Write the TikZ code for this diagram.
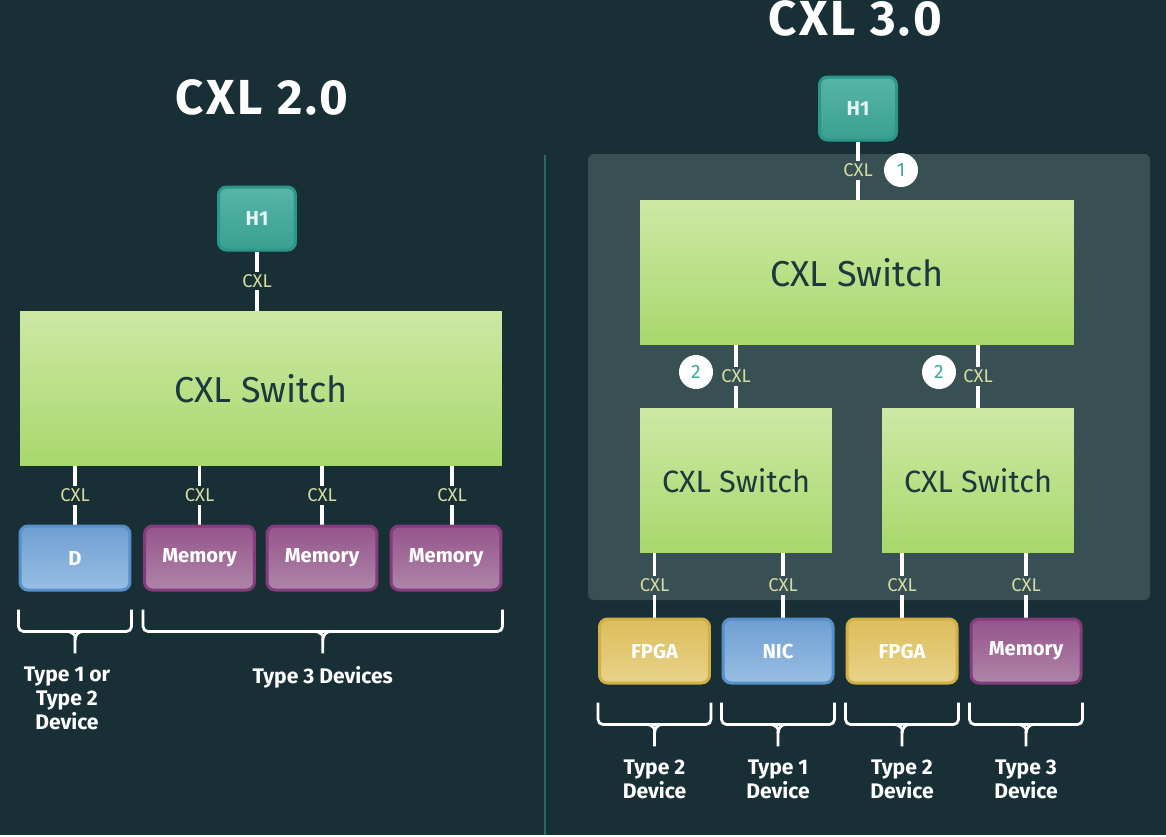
\documentclass[tikz,border=0pt]{standalone}
\usepackage{fontspec}
\setmainfont{Fira Sans}
\usepackage{tikz}
\usetikzlibrary{positioning}
\usetikzlibrary{calc}
\pgfdeclarelayer{backlayer}
\pgfdeclarelayer{edgelayer}
\pgfdeclarelayer{nodelayer}
\pgfsetlayers{backlayer,edgelayer,nodelayer,main}
\definecolor{bgdark}{HTML}{182F35}
\definecolor{panelgray}{HTML}{384F54}
\definecolor{divline}{HTML}{2B6663}
\definecolor{cxltext}{HTML}{D7DCA2}
\definecolor{switchtext}{HTML}{1C3A3D}
\definecolor{badgeteal}{HTML}{3AA89A}
\tikzset{
    title/.style = {text=white, font=\bfseries\fontsize{28}{30}\selectfont\addfontfeature{LetterSpace=6}},
    host/.style = {rounded corners=0.16cm, minimum width=1.54cm, minimum height=1.26cm,
        draw=HTML-hostedge, line width=0.06cm, top color=HTML-hosttop, bottom color=HTML-hostbot,
        text=HTML-hosttext, font=\bfseries\fontsize{11.5}{13}\selectfont},
    switch/.style = {top color=HTML-swtop, bottom color=HTML-swbot, text=switchtext,
        font=\fontsize{20.5}{22}\selectfont},
    smallswitch/.style = {switch, font=\fontsize{17.5}{19}\selectfont},
    device/.style = {rounded corners=0.16cm, minimum width=2.2cm, minimum height=1.28cm,
        line width=0.06cm, text=white, font=\bfseries\fontsize{11.5}{13}\selectfont},
    nicblue/.style = {draw=HTML-blueedge, top color=HTML-bluetop, bottom color=HTML-bluebot},
    mempurple/.style = {draw=HTML-purpedge, top color=HTML-purptop, bottom color=HTML-purpbot},
    fpgayellow/.style = {draw=HTML-yelledge, top color=HTML-yelltop, bottom color=HTML-yellbot},
    link/.style = {draw=white, line width=0.065cm},
    cxl/.style = {fill=bgdark, text=cxltext, inner sep=1.5pt, font=\fontsize{10.5}{12}\selectfont},
    cxlin/.style = {cxl, fill=panelgray},
    badge/.style = {circle, fill=white, minimum size=0.68cm, inner sep=0pt, text=badgeteal,
        font=\fontsize{11}{12}\selectfont},
    brace/.style = {draw=white, line width=0.055cm, rounded corners=0.1cm},
    devlabel/.style = {align=center, text=white, inner sep=0pt,
        font=\bfseries\fontsize{12}{13.6}\selectfont},
    divider/.style = {draw=divline, line width=0.04cm}
}
\definecolor{HTML-hostedge}{HTML}{2A978A}
\definecolor{HTML-hosttop}{HTML}{56B5A8}
\definecolor{HTML-hostbot}{HTML}{3A9F92}
\definecolor{HTML-hosttext}{HTML}{E4F6F2}
\definecolor{HTML-swtop}{HTML}{CDE8A4}
\definecolor{HTML-swbot}{HTML}{A8D86C}
\definecolor{HTML-blueedge}{HTML}{5790C9}
\definecolor{HTML-bluetop}{HTML}{6E9FD2}
\definecolor{HTML-bluebot}{HTML}{98BFE4}
\definecolor{HTML-purpedge}{HTML}{853C7C}
\definecolor{HTML-purptop}{HTML}{96548C}
\definecolor{HTML-purpbot}{HTML}{AE85A8}
\definecolor{HTML-yelledge}{HTML}{D3B045}
\definecolor{HTML-yelltop}{HTML}{DDBD5C}
\definecolor{HTML-yellbot}{HTML}{E8D38A}

% brace under a row of devices: first device, last device, name of stem end
\newcommand{\devbrace}[3]{%
  \draw[brace] ([yshift=-0.36cm]#1.south west) -- ([yshift=-0.8cm]#1.south west)
    -- ([yshift=-0.8cm]#2.south east) -- ([yshift=-0.36cm]#2.south east);
  \coordinate (#3) at ($(#1.south west)!0.5!(#2.south east) + (0,-1.24cm)$);
  \draw[brace] ($(#3)+(-0.15cm,0.44cm)$) to[out=0,in=90] ($(#3)+(0,0.26cm)$) -- (#3);
  \draw[brace] ($(#3)+(0.15cm,0.44cm)$) to[out=180,in=90] ($(#3)+(0,0.26cm)$);
}

\begin{document}
\begin{tikzpicture}[x=0.02cm, y=-0.02cm]
  \begin{pgfonlayer}{backlayer}
    \fill[bgdark] (0,0) rectangle (1166,835);
    \draw[divider] (545,155) -- (545,835);
    \fill[panelgray, rounded corners=0.12cm] (588,154) rectangle (1150,600);
  \end{pgfonlayer}
  \useasboundingbox (0,0) rectangle (1166,835);

  \begin{pgfonlayer}{nodelayer}
    % CXL 2.0
    \node [title] (t2) at (262,97) {CXL 2.0};
    \node [host] (h1a) at (257,218.5) {H1};
    \node [switch, minimum width=9.64cm, minimum height=3.1cm] (swa) at (261,388.5) {CXL Switch};
    \node [device, nicblue] (d) at (75,558) {D};
    \node [device, mempurple] (mema) at (199.5,558) {Memory};
    \node [device, mempurple] (memb) at (322,558) {Memory};
    \node [device, mempurple] (memc) at (446,558) {Memory};
    % CXL 3.0
    \node [title] (t3) at (855,18) {CXL 3.0};
    \node [host] (h1b) at (858,108.5) {H1};
    \node [switch, minimum width=8.68cm, minimum height=2.9cm] (swb) at (857,272.5) {CXL Switch};
    \node [smallswitch, minimum width=3.84cm, minimum height=2.9cm] (swc) at (736,480.5) {CXL Switch};
    \node [smallswitch, minimum width=3.84cm, minimum height=2.9cm] (swd) at (978,480.5) {CXL Switch};
    \node [device, fpgayellow] (fpa) at (654.5,651) {FPGA};
    \node [device, nicblue] (nic) at (778,651) {NIC};
    \node [device, fpgayellow] (fpb) at (902,651) {FPGA};
    \node [device, mempurple] (memd) at (1026,651) {Memory};
    \node [badge] (b1) at (901,170) {1};
    \node [badge] (b2a) at (696,372) {2};
    \node [badge] (b2b) at (939,372) {2};
  \end{pgfonlayer}

  \begin{pgfonlayer}{edgelayer}
    \draw[link] (h1a.south) -- node[cxl] {CXL} (h1a.south |- swa.north);
    \draw[link] (d.north |- swa.south) -- node[cxl] {CXL} (d.north);
    \draw[link] (mema.north |- swa.south) -- node[cxl] {CXL} (mema.north);
    \draw[link] (memb.north |- swa.south) -- node[cxl] {CXL} (memb.north);
    \draw[link] ([xshift=0.12cm]memc.north |- swa.south) -- node[cxl] {CXL} ([xshift=0.12cm]memc.north);

    \draw[link] (h1b.south) -- node[cxlin] {CXL} (h1b.south |- swb.north);
    \draw[link] (swc.north |- swb.south) -- node[cxlin] {CXL} (swc.north);
    \draw[link] (swd.north |- swb.south) -- node[cxlin] {CXL} (swd.north);
    \draw[link] (fpa.north |- swc.south) -- node[cxlin] {CXL} (fpa.north);
    \draw[link] ([xshift=0.1cm]nic.north |- swc.south) -- node[cxlin] {CXL} ([xshift=0.1cm]nic.north);
    \draw[link] (fpb.north |- swd.south) -- node[cxlin] {CXL} (fpb.north);
    \draw[link] (memd.north |- swd.south) -- node[cxlin] {CXL} (memd.north);
  \end{pgfonlayer}

  % braces and device types
  \devbrace{d}{d}{ba}
  \devbrace{mema}{memc}{bb}
  \devbrace{fpa}{fpa}{bc}
  \devbrace{nic}{nic}{bd}
  \devbrace{fpb}{fpb}{be}
  \devbrace{memd}{memd}{bf}
  \node [devlabel, below=0.26cm of ba, xshift=-0.16cm] (la) {Type 1 or\\Type 2\\Device};
  \node [devlabel, below=0.26cm of bb] (lb) {Type 3 Devices};
  \node [devlabel, below=0.26cm of bc] (lc) {Type 2\\Device};
  \node [devlabel, below=0.26cm of bd] (ld) {Type 1\\Device};
  \node [devlabel, below=0.26cm of be] (le) {Type 2\\Device};
  \node [devlabel, below=0.26cm of bf] (lf) {Type 3\\Device};
\end{tikzpicture}
\end{document}
